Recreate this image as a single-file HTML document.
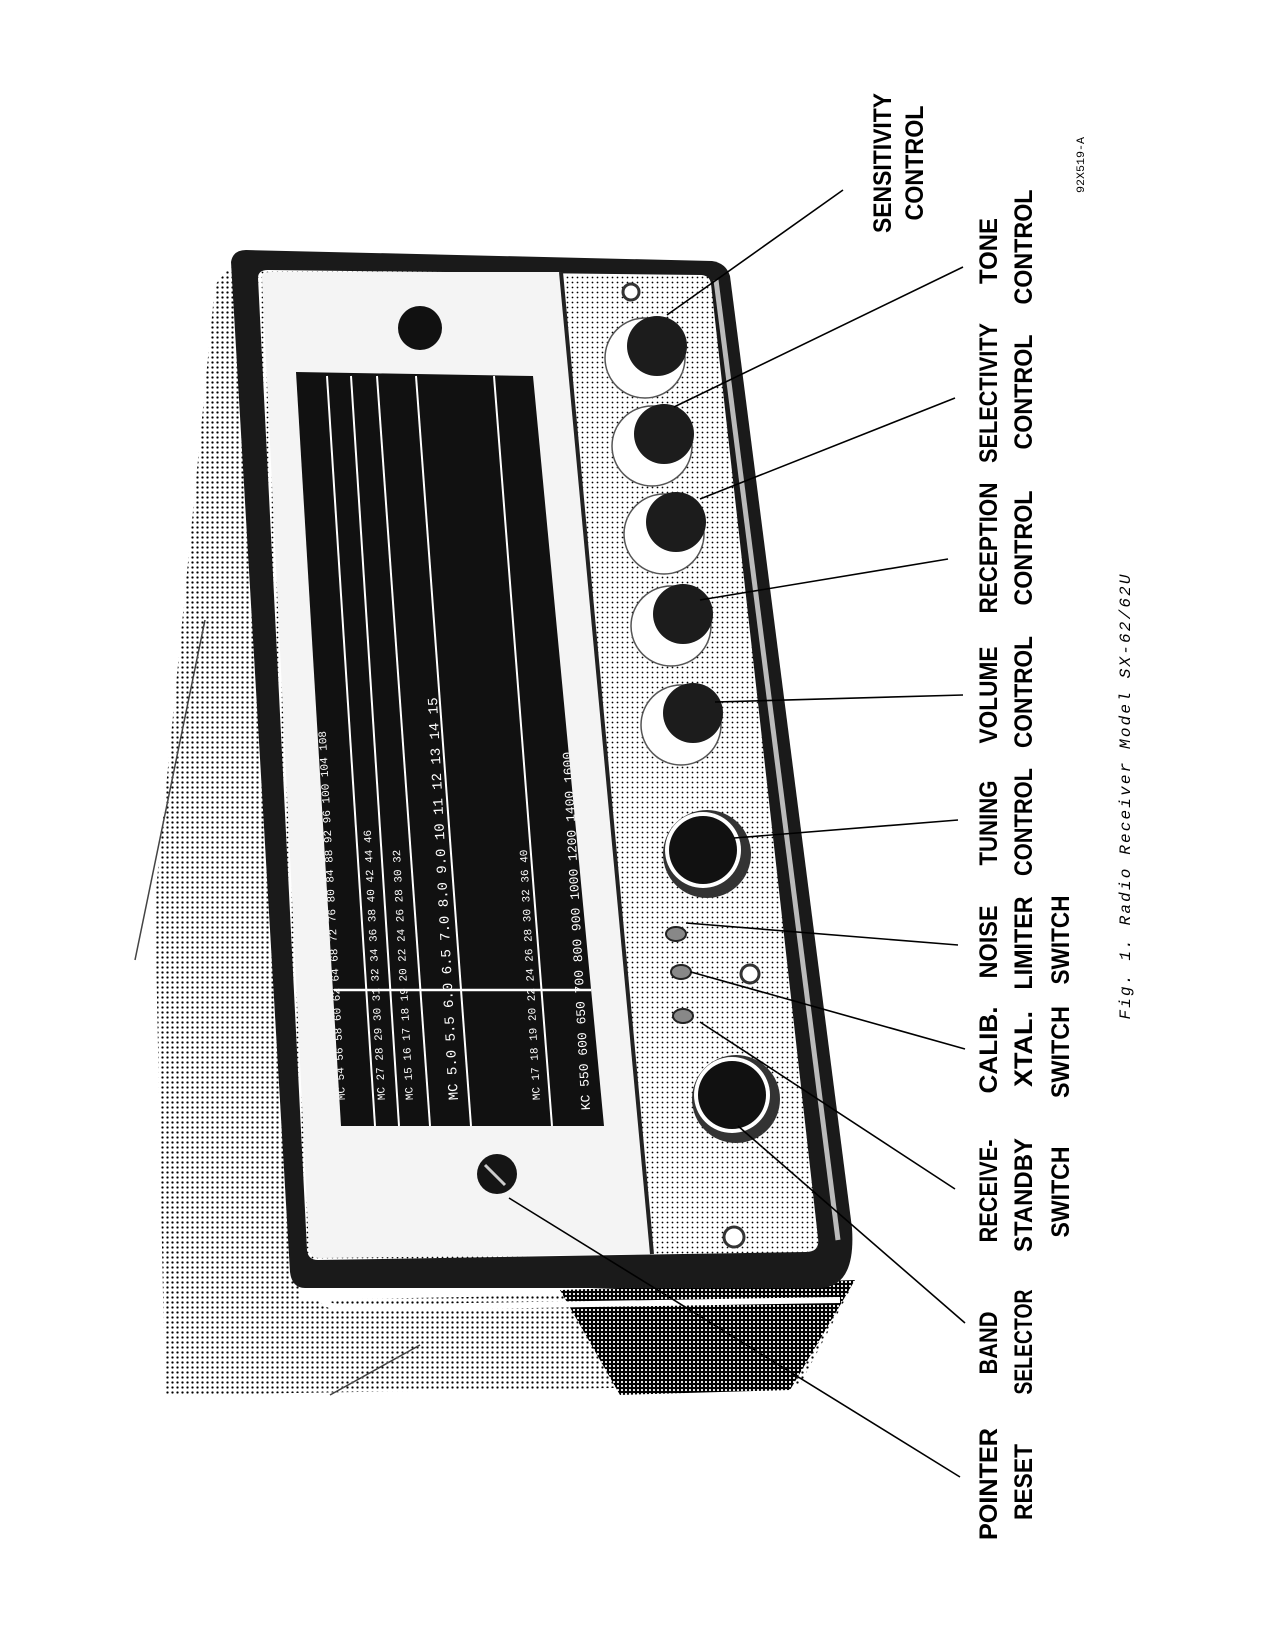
<!DOCTYPE html>
<html><head><meta charset="utf-8"><style>
html,body{margin:0;padding:0;background:#fff}
svg{display:block}
.lb{font-family:"Liberation Sans Narrow","Liberation Sans",sans-serif;font-weight:bold;font-size:25px;fill:#000}
.dn{font-family:"Liberation Mono",monospace;font-size:11px;fill:#fff}
</style></head><body>
<svg width="1275" height="1650" viewBox="0 0 1275 1650" xmlns="http://www.w3.org/2000/svg">
<defs>
<pattern id="dots" width="5" height="5" patternUnits="userSpaceOnUse">
<rect width="5" height="5" fill="#fff"/><circle cx="2.5" cy="2.5" r="1.15" fill="#000"/></pattern>
<pattern id="dotsL" width="5" height="5" patternUnits="userSpaceOnUse">
<rect width="5" height="5" fill="#fff"/><circle cx="2.5" cy="2.5" r="0.9" fill="#000"/></pattern>
<pattern id="dotsD" width="4" height="4" patternUnits="userSpaceOnUse">
<rect width="4" height="4" fill="#000"/><circle cx="2" cy="2" r="1.1" fill="#fff"/></pattern>
<clipPath id="win"><polygon points="296,372 533,376 604,1126 341,1126"/></clipPath>
</defs>

<!-- background haze -->
<polygon points="215,285 240,255 300,1300 850,1290 800,1385 165,1395 155,900" fill="url(#dots)"/>
<polygon points="560,1290 855,1280 790,1390 620,1395" fill="url(#dotsD)"/>
<line x1="205" y1="620" x2="135" y2="960" stroke="#444" stroke-width="1.5"/>
<line x1="420" y1="1345" x2="330" y2="1395" stroke="#444" stroke-width="1.5"/>
<!-- cabinet edge -->
<path d="M270,300 L318,1290 Q322,1308 345,1308 L840,1300" fill="none" stroke="#fff" stroke-width="6"/>

<!-- outer frame -->
<path d="M231,262 Q233,250 246,250 L712,261 Q726,263 730,276 L852,1228 Q856,1287 820,1288 L305,1288 Q292,1288 290,1272 Z" fill="#1a1a1a"/>
<path d="M716,280 L838,1240" stroke="#bbb" stroke-width="5" fill="none"/>
<!-- inner face -->
<path d="M258,278 Q258,270 268,270 L702,275 Q710,276 711,284 L818,1238 Q820,1252 806,1252 L318,1260 Q308,1260 307,1250 Z" fill="url(#dotsL)"/>
<path d="M262,278 Q262,272 270,272 L561,272 L652,1254 L320,1258 Q310,1258 309,1248 Z" fill="#f4f4f4"/>
<line x1="561" y1="272" x2="652" y2="1254" stroke="#222" stroke-width="4"/>

<!-- dial window -->
<polygon points="296,372 533,376 604,1126 341,1126" fill="#111"/>
<g clip-path="url(#win)">
<g stroke="#fff" stroke-width="2">
<line x1="327" y1="376" x2="375" y2="1126"/>
<line x1="351" y1="376" x2="399" y2="1126"/>
<line x1="377" y1="376" x2="430" y2="1126"/>
<line x1="416" y1="376" x2="471" y2="1126"/>
<line x1="494" y1="376" x2="552" y2="1126"/>
<line x1="334" y1="990" x2="592" y2="990" stroke-width="2.5"/>
</g>
<g class="dn">
<text transform="translate(345,1100) rotate(-93)">MC  54  56  58  60  62  64  68  72  76  80  84  88  92  96  100  104  108</text>
<text transform="translate(385,1100) rotate(-93)">MC   27  28   29   30   31   32   34   36   38   40   42   44   46</text>
<text transform="translate(413,1100) rotate(-93)">MC   15   16   17   18   19   20   22   24   26   28   30   32</text>
<text transform="translate(458,1100) rotate(-93)" font-size="14">MC  5.0  5.5  6.0  6.5  7.0  8.0  9.0  10  11  12  13  14  15</text>
<text transform="translate(540,1100) rotate(-93)">MC    17    18    19    20    22    24    26    28    30    32    36    40</text>
<text transform="translate(590,1110) rotate(-93)" font-size="13">KC  550  600  650  700  800  900  1000  1200  1400  1600</text>
</g>
</g>

<!-- meter / screws -->
<circle cx="420" cy="328" r="22" fill="#111"/>
<circle cx="631" cy="292" r="8" fill="#fff" stroke="#333" stroke-width="3"/>
<circle cx="750" cy="974" r="9" fill="#fff" stroke="#333" stroke-width="3"/>
<circle cx="734" cy="1237" r="10" fill="#fff" stroke="#333" stroke-width="3"/>
<circle cx="497" cy="1174" r="20" fill="#151515"/>
<line x1="485" y1="1165" x2="505" y2="1185" stroke="#ccc" stroke-width="3"/>

<!-- knobs -->
<g stroke="#555" stroke-width="1.5" fill="#fff">
<circle cx="645" cy="358" r="40"/>
<circle cx="652" cy="446" r="40"/>
<circle cx="664" cy="534" r="40"/>
<circle cx="671" cy="626" r="40"/>
<circle cx="681" cy="725" r="40"/>
</g>
<g fill="#1c1c1c">
<circle cx="657" cy="346" r="30"/>
<circle cx="664" cy="434" r="30"/>
<circle cx="676" cy="522" r="30"/>
<circle cx="683" cy="614" r="30"/>
<circle cx="693" cy="713" r="30"/>
</g>
<circle cx="707" cy="854" r="44" fill="#333"/>
<circle cx="703" cy="850" r="38" fill="#fff"/>
<circle cx="703" cy="850" r="34" fill="#111"/>
<circle cx="736" cy="1099" r="44" fill="#333"/>
<circle cx="732" cy="1095" r="38" fill="#fff"/>
<circle cx="732" cy="1095" r="34" fill="#111"/>
<g fill="#888" stroke="#222" stroke-width="2">
<ellipse cx="676" cy="934" rx="10" ry="7"/>
<ellipse cx="681" cy="972" rx="10" ry="7"/>
<ellipse cx="683" cy="1016" rx="10" ry="7"/>
</g>

<!-- leader lines -->
<g stroke="#000" stroke-width="1.6">
<line x1="843" y1="190" x2="667" y2="315"/>
<line x1="963" y1="267" x2="674" y2="407"/>
<line x1="955" y1="398" x2="700" y2="499"/>
<line x1="948" y1="559" x2="700" y2="600"/>
<line x1="963" y1="695" x2="715" y2="702"/>
<line x1="958" y1="820" x2="734" y2="838"/>
<line x1="958" y1="945" x2="686" y2="923"/>
<line x1="965" y1="1049" x2="691" y2="972"/>
<line x1="955" y1="1189" x2="700" y2="1022"/>
<line x1="965" y1="1323" x2="738" y2="1126"/>
<line x1="960" y1="1477" x2="509" y2="1198"/>
</g>

<!-- labels -->
<g class="lb" text-anchor="middle">
<text transform="translate(891,163) rotate(-90)" textLength="140" lengthAdjust="spacingAndGlyphs">SENSITIVITY</text>
<text transform="translate(923,163) rotate(-90)" textLength="115" lengthAdjust="spacingAndGlyphs">CONTROL</text>
<text transform="translate(997,251) rotate(-90)" textLength="66" lengthAdjust="spacingAndGlyphs">TONE</text>
<text transform="translate(1032,247) rotate(-90)" textLength="115" lengthAdjust="spacingAndGlyphs">CONTROL</text>
<text transform="translate(997,393) rotate(-90)" textLength="140" lengthAdjust="spacingAndGlyphs">SELECTIVITY</text>
<text transform="translate(1032,392) rotate(-90)" textLength="115" lengthAdjust="spacingAndGlyphs">CONTROL</text>
<text transform="translate(997,548) rotate(-90)" textLength="131" lengthAdjust="spacingAndGlyphs">RECEPTION</text>
<text transform="translate(1032,548) rotate(-90)" textLength="115" lengthAdjust="spacingAndGlyphs">CONTROL</text>
<text transform="translate(997,695) rotate(-90)" textLength="97" lengthAdjust="spacingAndGlyphs">VOLUME</text>
<text transform="translate(1032,692) rotate(-90)" textLength="112" lengthAdjust="spacingAndGlyphs">CONTROL</text>
<text transform="translate(997,823) rotate(-90)" textLength="85" lengthAdjust="spacingAndGlyphs">TUNING</text>
<text transform="translate(1032,822) rotate(-90)" textLength="108" lengthAdjust="spacingAndGlyphs">CONTROL</text>
<text transform="translate(997,942) rotate(-90)" textLength="73" lengthAdjust="spacingAndGlyphs">NOISE</text>
<text transform="translate(1032,943) rotate(-90)" textLength="93" lengthAdjust="spacingAndGlyphs">LIMITER</text>
<text transform="translate(1069,940) rotate(-90)" textLength="89" lengthAdjust="spacingAndGlyphs">SWITCH</text>
<text transform="translate(997,1050) rotate(-90)" textLength="87" lengthAdjust="spacingAndGlyphs">CALIB.</text>
<text transform="translate(1032,1049) rotate(-90)" textLength="76" lengthAdjust="spacingAndGlyphs">XTAL.</text>
<text transform="translate(1069,1052) rotate(-90)" textLength="92" lengthAdjust="spacingAndGlyphs">SWITCH</text>
<text transform="translate(997,1191) rotate(-90)" textLength="103" lengthAdjust="spacingAndGlyphs">RECEIVE-</text>
<text transform="translate(1032,1195) rotate(-90)" textLength="114" lengthAdjust="spacingAndGlyphs">STANDBY</text>
<text transform="translate(1069,1192) rotate(-90)" textLength="91" lengthAdjust="spacingAndGlyphs">SWITCH</text>
<text transform="translate(997,1343) rotate(-90)" textLength="63" lengthAdjust="spacingAndGlyphs">BAND</text>
<text transform="translate(1032,1342) rotate(-90)" textLength="105" lengthAdjust="spacingAndGlyphs">SELECTOR</text>
<text transform="translate(997,1484) rotate(-90)" textLength="112" lengthAdjust="spacingAndGlyphs">POINTER</text>
<text transform="translate(1032,1482) rotate(-90)" textLength="76" lengthAdjust="spacingAndGlyphs">RESET</text>
</g>
<text transform="translate(1084,165) rotate(-90)" text-anchor="middle" font-family="Liberation Mono, monospace" font-size="11" textLength="56" lengthAdjust="spacingAndGlyphs">92X519-A</text>
<text transform="translate(1130,797) rotate(-90)" text-anchor="middle" font-family="Liberation Mono, monospace" font-style="italic" font-size="16" textLength="445" lengthAdjust="spacing">Fig. 1.  Radio Receiver Model SX-62/62U</text>
</svg>
</body></html>
